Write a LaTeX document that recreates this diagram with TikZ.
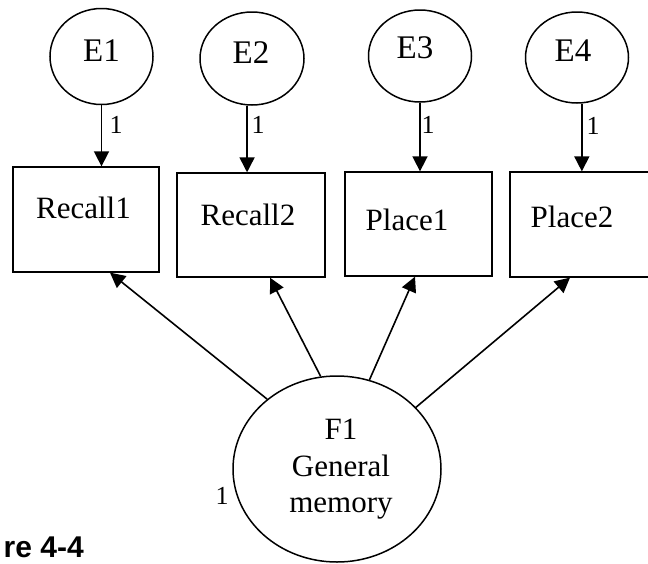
\documentclass[tikz,border=0pt]{standalone}
\usepackage{fontspec}
\setmainfont{Liberation Serif}
\newfontfamily\capfont{Liberation Sans}
\usetikzlibrary{arrows.meta,shapes.geometric,calc}

\begin{document}
\begin{tikzpicture}[x=1pt,y=-1pt,
  latent/.style={draw,ellipse,line width=1.5pt,inner sep=0pt},
  obs/.style={draw,rectangle,line width=1.3pt,inner sep=0pt},
  lbl/.style={font=\fontsize{31}{34}\selectfont,inner sep=0pt,anchor=base},
  elbl/.style={lbl,font=\fontsize{33}{36}\selectfont},
  wt/.style={font=\fontsize{26}{29}\selectfont,inner sep=0pt},
  arr/.style={line width=1.6pt,-{Triangle[length=15pt,width=15pt]}},
]
\useasboundingbox (0,0) rectangle (648,563);

% error terms
\node[latent,minimum width=103pt,minimum height=96pt] (E1) at (101.5,56.5) {};
\node[latent,minimum width=104pt,minimum height=93pt] (E2) at (252,58.5) {};
\node[latent,minimum width=103pt,minimum height=92pt] (E3) at (420,56) {};
\node[latent,minimum width=103pt,minimum height=91pt] (E4) at (577,57.5) {};
\node[elbl] (E1t) at (101.5,61) {E1};
\node[elbl] (E2t) at (251,63) {E2};
\node[elbl] (E3t) at (415,58) {E3};
\node[elbl] (E4t) at (573,61) {E4};

% observed indicators
\node[obs,minimum width=146pt,minimum height=105pt] (R1) at (86,219.5) {};
\node[obs,minimum width=148pt,minimum height=104pt] (R2) at (251,225) {};
\node[obs,minimum width=147pt,minimum height=104pt] (P1) at (418.5,224) {};
\node[obs,minimum width=150pt,minimum height=105pt] (P2) at (585,224.5) {};
\node[lbl] (R1t) at (83.5,218) {Recall1};
\node[lbl] (R2t) at (248,225) {Recall2};
\node[lbl] (P1t) at (407,230) {Place1};
\node[lbl] (P2t) at (572,227) {Place2};

% common factor
\node[latent,minimum width=208pt,minimum height=186pt] (F1) at (337,469) {};
\node[lbl] (F1a) at (341,439) {F1};
\node[lbl] (F1b) at (341,476) {General};
\node[lbl] (F1c) at (341,512) {memory};

% error paths
\draw[arr] (E1.south) -- (E1.south |- R1.north);
\draw[arr] (E2.264) -- (E2.264 |- R2.north);
\draw[arr] (E3.south) -- (E3.south |- P1.north);
\draw[arr] (E4.276) -- (E4.276 |- P2.north);
\node[wt] (w1) at (116,125) {1};
\node[wt] (w2) at (258,125) {1};
\node[wt] (w3) at (428,125) {1};
\node[wt] (w4) at (593,126) {1};
\node[wt] (w5) at (222,496) {1};

% loadings
\draw[arr] (F1.135.4) -- ($(R1.south)+(24,0)$);
\draw[arr] (F1.100.6) -- ($(R2.south)+(19,0)$);
\draw[arr] (F1.70.8) -- ($(P1.south)+(-3.5,0)$);
\draw[arr] (F1.38.3) -- ($(P2.south)+(-15,0)$);

% caption
\node[font=\capfont\bfseries\fontsize{30}{33}\selectfont,anchor=base east,inner sep=0pt] (cap) at (84,557) {re 4-4};
\end{tikzpicture}
\end{document}
